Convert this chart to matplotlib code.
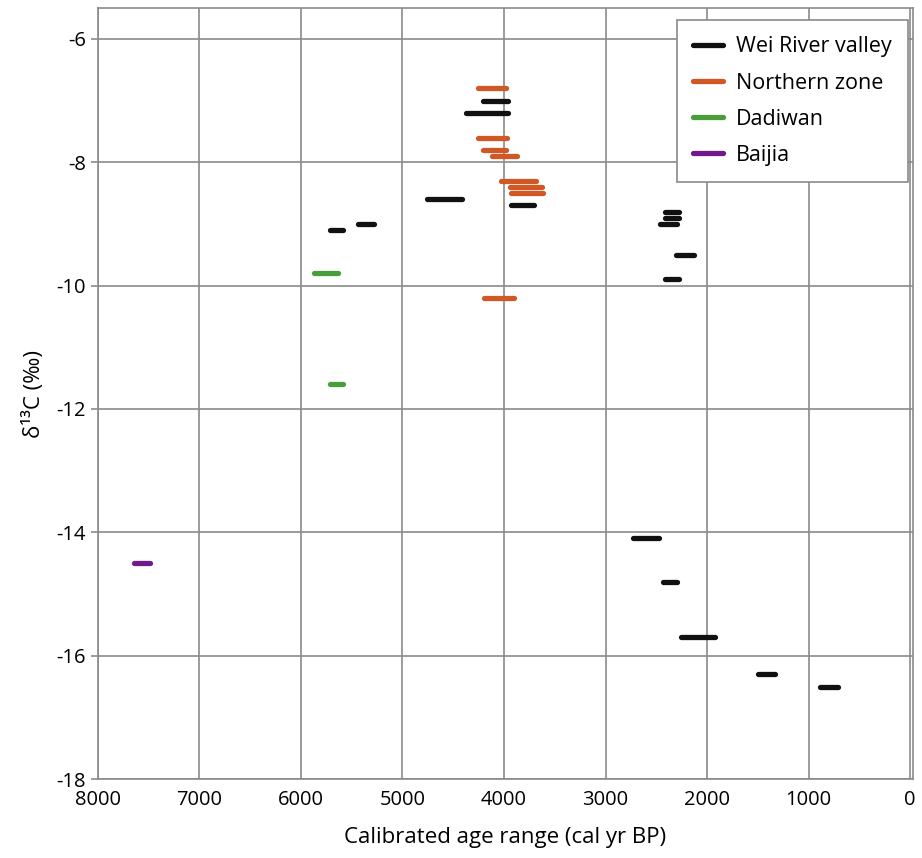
import matplotlib.pyplot as plt

plt.rcParams['font.family'] = ['Open Sans', 'DejaVu Sans']
plt.rcParams['axes.unicode_minus'] = False

# age ranges (cal yr BP) and d13C values for each group
wei_start = [4210, 4370, 4760, 3935, 2410, 2410, 2460, 2310, 2410, 5710, 5440,
             2725, 2430, 2260, 1495, 890]
wei_end = [3965, 3965, 4410, 3700, 2280, 2280, 2300, 2125, 2280, 5585, 5275,
           2470, 2300, 1925, 1330, 715]
wei_d13c = [-7.0, -7.2, -8.6, -8.7, -8.8, -8.9, -9.0, -9.5, -9.9, -9.1, -9.0,
            -14.1, -14.8, -15.7, -16.3, -16.5]

north_start = [4260, 4260, 4210, 4120, 4025, 3945, 3935, 4200]
north_end = [3985, 3975, 3985, 3875, 3680, 3630, 3620, 3905]
north_d13c = [-6.8, -7.6, -7.8, -7.9, -8.3, -8.4, -8.5, -10.2]

dadiwan_start = [5875, 5710]
dadiwan_end = [5635, 5590]
dadiwan_d13c = [-9.8, -11.6]

baijia_start = [7645]
baijia_end = [7490]
baijia_d13c = [-14.5]

groups = [
    ('Wei River valley', wei_start, wei_end, wei_d13c, '#111111'),
    ('Northern zone', north_start, north_end, north_d13c, '#CF5824'),
    ('Dadiwan', dadiwan_start, dadiwan_end, dadiwan_d13c, '#4A9E3A'),
    ('Baijia', baijia_start, baijia_end, baijia_d13c, '#6E1A8C'),
]

fig = plt.figure(figsize=(9.22, 8.58), dpi=100)
ax = fig.add_axes([0.106, 0.092, 0.884, 0.8987])

for name, starts, ends, vals, color in groups:
    for i, (s, e, v) in enumerate(zip(starts, ends, vals)):
        ax.plot([s, e], [v, v], color=color, lw=3.8, solid_capstyle='round',
                label=name if i == 0 else '_nolegend_', zorder=3)

ax.set_xlim(8000, -25)
ax.set_ylim(-18, -5.5)
ax.set_xticks(range(8000, -1, -1000))
ax.set_yticks(range(-18, -5, 2))
ax.grid(True, color='#8a8a8a', lw=1.2)
for sp in ax.spines.values():
    sp.set_color('#8a8a8a')
    sp.set_linewidth(1.2)
ax.tick_params(axis='both', labelsize=14.5, color='#8a8a8a', length=5, width=1.2)
ax.tick_params(axis='x', length=0, pad=8)

ax.set_xlabel('Calibrated age range (cal yr BP)', fontsize=16, labelpad=12)
ax.set_ylabel('δ¹³C (‰)', fontsize=16, labelpad=8)

leg = ax.legend(loc='upper right', bbox_to_anchor=(0.994, 0.984),
                fontsize=15.5, frameon=True, fancybox=False,
                edgecolor='#8a8a8a', framealpha=1, handlelength=1.4,
                handletextpad=0.6, labelspacing=0.7, borderaxespad=0,
                borderpad=0.75)
leg.get_frame().set_linewidth(1.2)

plt.savefig('out.png', dpi=100)
